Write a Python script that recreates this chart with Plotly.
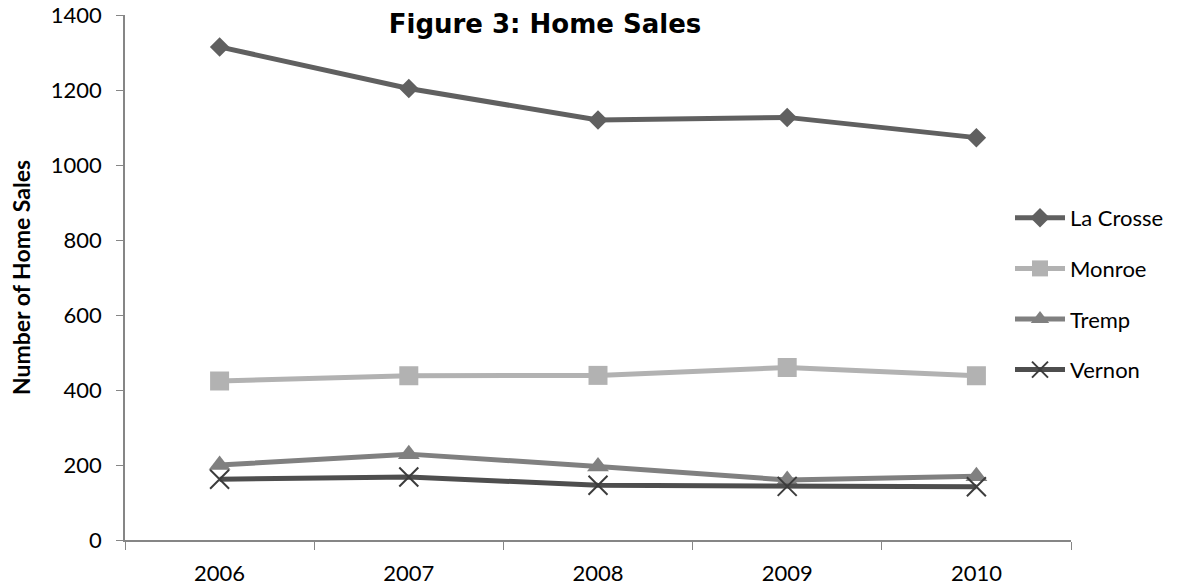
import plotly.graph_objects as go

years = ["2006", "2007", "2008", "2009", "2010"]
la_crosse = [1315, 1204, 1120, 1127, 1073]
monroe = [424, 438, 439, 460, 438]
tremp = [200, 229, 196, 160, 170]
vernon = [162, 168, 146, 143, 142]

series = [
    ("La Crosse", la_crosse, "#606060", "diamond", "#606060", 15),
    ("Monroe", monroe, "#b2b2b2", "square", "#b2b2b2", 19),
    ("Tremp", tremp, "#808080", "triangle-up", "#808080", 19),
    ("Vernon", vernon, "#4e4e4e", "x-thin-open", "#3c3c3c", 19),
]

fig = go.Figure()
for i, (name, vals, col, sym, mcol, msize) in enumerate(series):
    marker = dict(symbol=sym, size=msize, color=mcol)
    if sym == "x-thin-open":
        marker["line"] = dict(color=mcol, width=2)
    fig.add_trace(go.Scatter(
        x=years, y=vals, name=name, mode="lines+markers",
        line=dict(color=col, width=5), marker=marker,
        legendgroup=name,
    ))

font_main = "Lato, 'Open Sans', sans-serif"
fig.update_layout(
    width=1180, height=588,
    margin=dict(l=125, r=108, t=15, b=48),
    paper_bgcolor="white", plot_bgcolor="white",
    font=dict(family=font_main, size=22, color="black"),
    title=dict(text="<b>Figure 3: Home Sales</b>", x=545/1180, xanchor="center",
               y=1 - 24/588, yanchor="middle",
               font=dict(family="'DejaVu Sans', Verdana, sans-serif", size=26, color="black")),
    showlegend=True,
    legend=dict(x=(1010-125)/947, xanchor="left", y=1 - (197-15)/525, yanchor="top",
                bgcolor="rgba(0,0,0,0)", font=dict(size=22, family=font_main),
                tracegroupgap=19, itemwidth=50),
    xaxis=dict(type="category", range=[-0.5, 4.5], showgrid=False, showline=True,
               linecolor="#868686", linewidth=1.5, ticks="outside", tickson="boundaries",
               ticklen=8, tickcolor="#868686", tickfont=dict(size=22), zeroline=False,
               automargin=False, ticklabelstandoff=13),
    yaxis=dict(range=[0, 1400], dtick=200, showgrid=False, showline=True,
               linecolor="#868686", linewidth=1.5, ticks="outside", ticklen=7,
               tickcolor="#868686", tickfont=dict(size=22), zeroline=False,
               ticklabelstandoff=10, automargin=False,
               title=dict(text="<b>Number of Home Sales</b>", standoff=14,
                          font=dict(size=23, family=font_main))),
)

fig.write_html("out.html", config={"displayModeBar": False},
               post_script="document.body.style.margin='0';document.body.style.overflow='hidden';")
